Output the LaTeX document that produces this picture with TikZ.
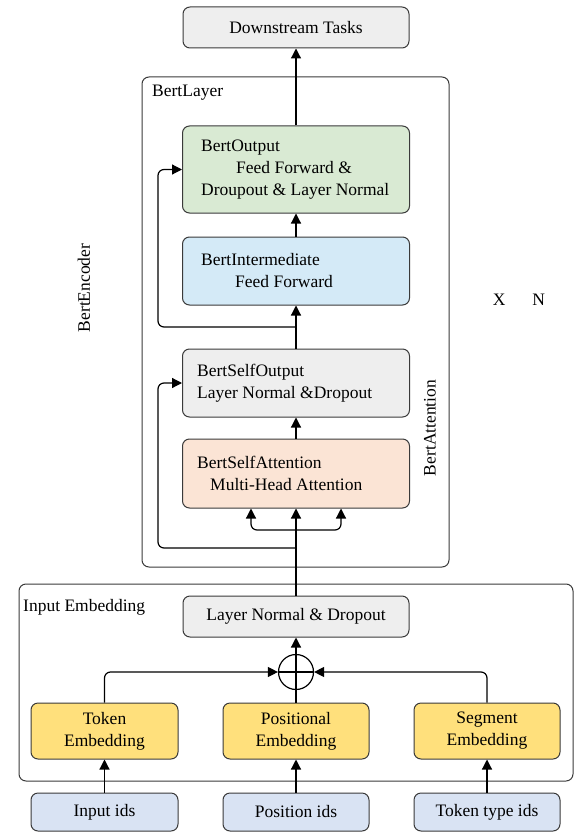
\documentclass[tikz,border=0pt]{standalone}
\usepackage{fontspec}
\setmainfont{Liberation Serif}
\usetikzlibrary{arrows.meta,calc}
\definecolor{bordc}{HTML}{3A3A3A}
\definecolor{grayf}{HTML}{EEEEEE}
\definecolor{greenf}{HTML}{D9EAD3}
\definecolor{bluef}{HTML}{D4EAF7}
\definecolor{peachf}{HTML}{FBE4D5}
\definecolor{yellowf}{HTML}{FFE07C}
\definecolor{idsf}{HTML}{D9E3F3}
\begin{document}
\begin{tikzpicture}[x=1pt,y=-1pt,
  every node/.style={font=\fontsize{17.5}{22}\selectfont, inner sep=0pt},
  box/.style={draw=bordc, line width=1pt, rounded corners=7pt, inner sep=0pt, align=center},
  txt/.style={align=left, anchor=west},
  conn/.style={line width=1.2pt, draw=black, rounded corners=6pt},
  arr/.style={conn, -{Triangle[length=10pt,width=10pt]}},
  dblarr/.style={conn, {Triangle[length=10pt,width=10pt]}-{Triangle[length=10pt,width=10pt]}},
]
\useasboundingbox (0,0) rectangle (574,832);

% outer containers
\node[box, minimum width=307pt, minimum height=490pt] (layer) at (295.5,322) {};
\node[box, minimum width=554pt, minimum height=197pt] (emb) at (296,682.5) {};

% top
\node[box, fill=grayf, minimum width=226pt, minimum height=41pt] (down) at (296,27.5) {Downstream Tasks};

% BertLayer boxes
\node[box, fill=greenf, minimum width=227pt, minimum height=87pt] (bout) at (296,169.5) {};
\node[txt] (boutT) at ([xshift=19pt]bout.west) {BertOutput\\\hspace*{35pt}Feed Forward \&\\Droupout \& Layer Normal};

\node[box, fill=bluef, minimum width=227pt, minimum height=68pt] (binter) at (296,271) {};
\node[txt] (binterT) at ([xshift=19pt]binter.west) {BertIntermediate\\\hspace*{34pt}Feed Forward};

\node[box, fill=grayf, minimum width=227pt, minimum height=68pt] (bso) at (296,383) {};
\node[txt] (bsoT) at ([xshift=15pt]bso.west) {BertSelfOutput\\Layer Normal \&Dropout};

\node[box, fill=peachf, minimum width=227pt, minimum height=69pt] (bsa) at (296,473.5) {};
\node[txt] (bsaT) at ([xshift=15pt]bsa.west) {BertSelfAttention\\\hspace*{13pt}Multi-Head Attention};

% labels
\node[anchor=west] (layerL) at (152,93) {BertLayer};
\node[rotate=90] (encL) at (84,288) {BertEncoder};
\node[rotate=90] (attL) at (430,428) {BertAttention};
\node (xn) at (519,300) {X\hspace{27pt}N};
\node[anchor=west] (embL) at (23,607) {Input Embedding};

% embedding boxes
\node[box, fill=grayf, minimum width=226pt, minimum height=41pt] (lnd) at (296,616.5) {Layer Normal \& Dropout};
\node[draw=black, line width=1.2pt, circle, minimum size=35pt] (plus) at (296,672) {};
\node[box, fill=yellowf, minimum width=147pt, minimum height=56pt] (tok) at (104.5,731) {Token\\Embedding};
\node[box, fill=yellowf, minimum width=146pt, minimum height=56pt] (pos) at (296,731) {Positional\\Embedding};
\node[box, fill=yellowf, minimum width=146pt, minimum height=56pt] (seg) at (487,731) {Segment\\Embedding};

\node[box, fill=idsf, minimum width=147pt, minimum height=38pt] (inid) at (104.5,812) {Input ids};
\node[box, fill=idsf, minimum width=146pt, minimum height=38pt] (posid) at (296,812) {Position ids};
\node[box, fill=idsf, minimum width=146pt, minimum height=38pt] (typid) at (487,812) {Token type ids};

% coordinates
\coordinate (br1) at (296,548);
\coordinate (br2) at (296,327);
\coordinate (fanL) at (251,530);
\coordinate (fanR) at (341,530);

% connectors: encoder
\draw[arr] (lnd.north) -- (bsa.south);
\draw[dblarr] (bsa.south -| fanL) -- (fanL) -- (fanR) -- (bsa.south -| fanR);
\draw[arr] (br1) -| ([xshift=-24pt]bso.west) -- (bso.west);
\draw[arr] (bsa.north) -- (bso.south);
\draw[arr] (bso.north) -- (binter.south);
\draw[arr] (br2) -| ([xshift=-24pt]bout.west) -- (bout.west);
\draw[arr] (binter.north) -- (bout.south);
\draw[arr] (bout.north) -- (down.south);

% connectors: embedding
\draw[arr] (inid.north) -- (tok.south);
\draw[arr] (posid.north) -- (pos.south);
\draw[arr] (typid.north) -- (seg.south);
\draw[arr] (tok.north) |- (plus.west);
\draw[arr] (seg.north) |- (plus.east);
\draw[arr] (pos.north) -- (lnd.south);
\draw[line width=1.2pt] (plus.west) -- (plus.east);
\end{tikzpicture}
\end{document}
